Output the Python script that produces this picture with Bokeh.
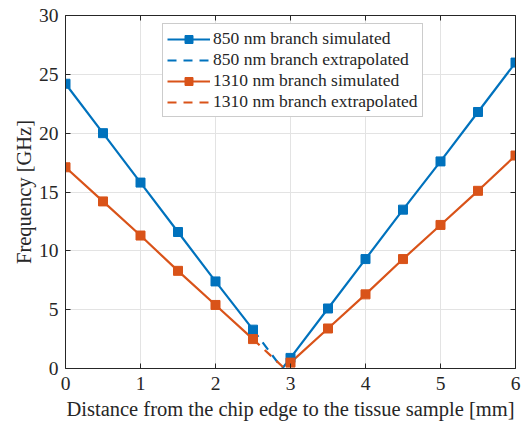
from bokeh.plotting import figure
from bokeh.models import LinearAxis, Range1d, FixedTicker, Legend, LegendItem
from bokeh.embed import file_html
from bokeh.resources import INLINE

# data
x_left = [0, 0.5, 1.0, 1.5, 2.0, 2.5]
x_right = [3.0, 3.5, 4.0, 4.5, 5.0, 5.5, 6.0]
f850_left = [24.2, 20.0, 15.8, 11.6, 7.4, 3.3]
f850_right = [0.9, 5.1, 9.3, 13.5, 17.6, 21.8, 26.0]
f1310_left = [17.1, 14.2, 11.3, 8.3, 5.4, 2.5]
f1310_right = [0.5, 3.4, 6.3, 9.3, 12.2, 15.1, 18.1]
x850_ext = [2.5, 2.89, 3.0]
f850_ext = [3.3, 0.0, 0.9]
x1310_ext = [2.5, 2.92, 3.0]
f1310_ext = [2.5, 0.0, 0.5]
x_ticks = [0, 1, 2, 3, 4, 5, 6]
y_ticks = [0, 5, 10, 15, 20, 25, 30]

BLUE = "#0072BD"
ORANGE = "#D95319"
TXT = "#262626"
FONT = "Liberation Serif"

p = figure(width=524, height=426, output_backend="svg", toolbar_location=None,
           x_range=Range1d(0, 6), y_range=Range1d(0, 30),
           min_border_left=65, min_border_right=9, min_border_top=15, min_border_bottom=58,
           x_axis_label="Distance from the chip edge to the tissue sample [mm]",
           y_axis_label="Frequency [GHz]")
p.outline_line_color = None
p.background_fill_color = "white"

for ax in (p.xaxis[0], p.yaxis[0]):
    ax.major_label_text_font = FONT
    ax.major_label_text_font_size = "19.5px"
    ax.major_label_text_color = TXT
    ax.axis_label_text_font = FONT
    ax.axis_label_text_font_size = "20.5px"
    ax.axis_label_text_font_style = "normal"
    ax.axis_label_text_color = TXT
    ax.axis_line_color = TXT
    ax.major_tick_line_color = TXT
    ax.major_tick_in = 5
    ax.major_tick_out = 0
    ax.minor_tick_line_color = None
p.xaxis[0].ticker = FixedTicker(ticks=x_ticks)
p.yaxis[0].ticker = FixedTicker(ticks=y_ticks)
p.xaxis[0].major_label_standoff = 8
p.yaxis[0].major_label_standoff = 7
p.xaxis[0].axis_label_standoff = 5
p.yaxis[0].axis_label_standoff = 1

top = LinearAxis(ticker=FixedTicker(ticks=x_ticks),
                 major_label_overrides={t: "" for t in x_ticks},
                 major_tick_in=5, major_tick_out=0, minor_tick_line_color=None,
                 axis_line_color=TXT, major_tick_line_color=TXT)
right = LinearAxis(ticker=FixedTicker(ticks=y_ticks),
                   major_label_overrides={t: "" for t in y_ticks},
                   major_tick_in=5, major_tick_out=0, minor_tick_line_color=None,
                   axis_line_color=TXT, major_tick_line_color=TXT)
p.add_layout(top, "above")
p.add_layout(right, "right")

p.xgrid.ticker = FixedTicker(ticks=x_ticks)
p.ygrid.ticker = FixedTicker(ticks=y_ticks)
p.grid.grid_line_color = "#e3e3e3"
p.grid.grid_line_width = 1

lw = 2.2
ext850 = p.line(x850_ext, f850_ext, line_color=BLUE, line_width=lw, line_dash="9 7")
ext1310 = p.line(x1310_ext, f1310_ext, line_color=ORANGE, line_width=lw, line_dash="9 7")
l850a = p.line(x_left, f850_left, line_color=BLUE, line_width=lw)
l850b = p.line(x_right, f850_right, line_color=BLUE, line_width=lw)
l1310a = p.line(x_left, f1310_left, line_color=ORANGE, line_width=lw)
l1310b = p.line(x_right, f1310_right, line_color=ORANGE, line_width=lw)
m850a = p.scatter(x_left, f850_left, marker="square", size=9, color=BLUE)
m850b = p.scatter(x_right, f850_right, marker="square", size=9, color=BLUE)
m1310a = p.scatter(x_left, f1310_left, marker="square", size=9, color=ORANGE)
m1310b = p.scatter(x_right, f1310_right, marker="square", size=9, color=ORANGE)

legend = Legend(items=[
    LegendItem(label="850 nm branch simulated", renderers=[l850a, m850a]),
    LegendItem(label="850 nm branch extrapolated", renderers=[ext850]),
    LegendItem(label="1310 nm branch simulated", renderers=[l1310a, m1310a]),
    LegendItem(label="1310 nm branch extrapolated", renderers=[ext1310]),
], location=(97, 251))
legend.label_text_font = FONT
legend.label_text_font_size = "17.5px"
legend.label_text_color = TXT
legend.border_line_color = "#999999"
legend.border_line_width = 1
legend.padding = 4
legend.spacing = 0
legend.margin = 0
legend.label_height = 20
legend.glyph_height = 20
legend.glyph_width = 43
legend.label_standoff = 3
legend.background_fill_alpha = 1
p.add_layout(legend)

open("out.html", "w").write(file_html(p, INLINE))
